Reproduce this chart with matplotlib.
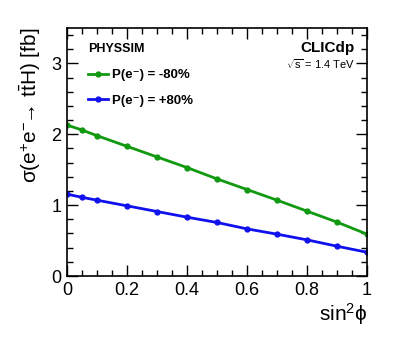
import matplotlib.pyplot as plt
from matplotlib.ticker import MultipleLocator

plt.rcParams['font.family'] = ['Liberation Sans', 'DejaVu Sans']
plt.rcParams['mathtext.fontset'] = 'custom'
plt.rcParams['mathtext.rm'] = 'Liberation Sans'
plt.rcParams['mathtext.it'] = 'Liberation Sans'

sin2phi = [0.0, 0.05, 0.1, 0.2, 0.3, 0.4, 0.5, 0.6, 0.7, 0.8, 0.9, 1.0]
xs_minus80 = [2.13, 2.06, 1.98, 1.83, 1.68, 1.53, 1.37, 1.22, 1.07, 0.915, 0.76, 0.59]
xs_plus80 = [1.155, 1.11, 1.07, 0.99, 0.91, 0.83, 0.755, 0.665, 0.59, 0.51, 0.42, 0.335]
labels = ['P(e⁻) = -80%', 'P(e⁻) = +80%']
colors = ['#119911', '#1111ee']

fig = plt.figure(figsize=(3.99, 3.37), dpi=100)
ax = fig.add_axes([0.168, 0.181, 0.752, 0.736])

ax.plot(sin2phi, xs_minus80, color=colors[0], lw=2, marker='o', ms=3.5, label=labels[0])
ax.plot(sin2phi, xs_plus80, color=colors[1], lw=2, marker='o', ms=3.5, label=labels[1])

ax.set_xlim(0, 1)
ax.set_ylim(0, 3.5)
ax.xaxis.set_major_locator(MultipleLocator(0.2))
ax.xaxis.set_minor_locator(MultipleLocator(0.05))
ax.yaxis.set_major_locator(MultipleLocator(1))
ax.yaxis.set_minor_locator(MultipleLocator(0.2))
ax.set_xticks([0, 0.2, 0.4, 0.6, 0.8, 1.0])
ax.set_xticklabels(['0', '0.2', '0.4', '0.6', '0.8', '1'])
ax.tick_params(which='both', direction='in', top=True, right=True, labelsize=13, pad=4)
ax.tick_params(which='major', length=8, width=1)
ax.tick_params(which='minor', length=4, width=1)
for s in ax.spines.values():
    s.set_linewidth(1.2)

ax.set_xlabel(r'sin$^{2}$$\phi$', fontsize=15, loc='right', labelpad=2)
ax.set_ylabel(r'$\sigma$(e$^{+}$e$^{-}$$\!\!\rightarrow\!$ t$\bar{\mathrm{t}}$H) [fb]',
              fontsize=15, loc='top', labelpad=6)

leg = ax.legend(loc='upper left', bbox_to_anchor=(0.07, 0.834), frameon=False,
                prop={'weight': 'bold', 'size': 9.5}, handlelength=1.5, handletextpad=0.35,
                labelspacing=0.98, borderpad=0, borderaxespad=0)
ax.text(0.07, 0.915, 'PHYSSIM', transform=ax.transAxes, fontsize=9, fontweight='bold', va='center')
ax.text(0.96, 0.92, 'CLICdp', transform=ax.transAxes, fontsize=11, fontweight='bold', ha='right', va='center')
ax.text(0.96, 0.855, r'$\sqrt{s}$ = 1.4 TeV', transform=ax.transAxes, fontsize=8, ha='right', va='center')

fig.savefig('out.png', dpi=100)
